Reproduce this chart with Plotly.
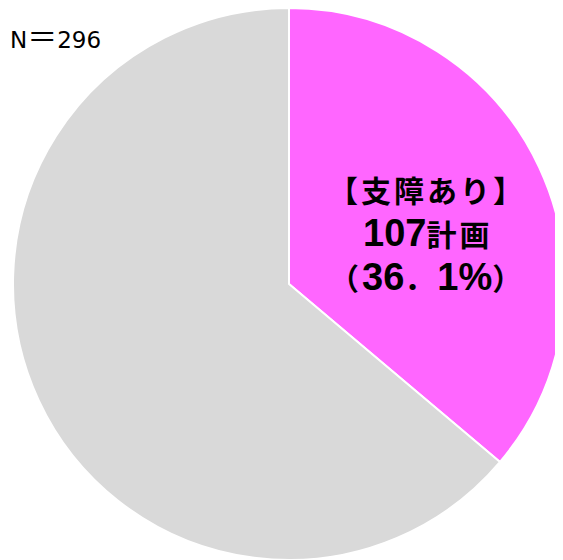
import re
import plotly.graph_objects as go

labels = ["支障あり", "支障なし"]
counts = [107, 189]
colors = ["#FF66FF", "#D9D9D9"]
n_label = "N"

# page offset (browser body margin) and figure size
OFF = 8
W, H = 600, 600
cx, cy, r = 289, 284, 276  # target pie centre / radius in page pixels

fx, fy = cx - OFF, cy - OFF

total = sum(counts)
pct = counts[0] / total * 100

fig = go.Figure(go.Pie(
    labels=labels,
    values=counts,
    marker=dict(colors=colors, line=dict(color="white", width=2)),
    sort=False,
    direction="clockwise",
    rotation=0,
    textinfo="none",
    hoverinfo="label+value+percent",
    showlegend=False,
    domain=dict(x=[(fx - r) / W, (fx + r) / W],
                y=[(H - fy - r) / H, min(1, (H - fy + r) / H)]),
))

LATIN = '<span style="font-family:Liberation Sans;font-size:38px">%s</span>'
CJK = '<span style="letter-spacing:3px">%s</span>'


def styled(s):
    parts = re.split(r"([0-9%]+)", s)
    out = []
    for p in parts:
        if not p:
            continue
        out.append(LATIN % p if re.fullmatch(r"[0-9%]+", p) else CJK % p)
    return "".join(out)


font = dict(family="Noto Sans CJK JP", size=30, color="black")
lines = [
    "【" + labels[0] + "】",
    str(counts[0]) + "計画",
    "（" + ("%.1f" % pct).replace(".", "．") + "%" + "）",
]
ys = [189, 233, 277]
for t, y in zip(lines, ys):
    fig.add_annotation(text="<b>" + styled(t) + "</b>", x=(427 - OFF) / W, y=1 - (y - OFF) / H,
                       xref="paper", yref="paper", showarrow=False, font=font,
                       xanchor="center", yanchor="middle")

n_text = (n_label + '<span style="font-family:Noto Sans CJK JP;font-size:30px">＝</span>'
          + str(total))
fig.add_annotation(text=n_text, x=(8 - OFF) / W, y=1 - (35 - OFF) / H, xref="paper", yref="paper",
                   showarrow=False, xanchor="left", yanchor="middle",
                   font=dict(family="DejaVu Sans", size=23, color="black"))

fig.update_layout(width=W, height=H, margin=dict(l=0, r=0, t=0, b=0),
                  paper_bgcolor="white", plot_bgcolor="white")
fig.write_html("out.html")
